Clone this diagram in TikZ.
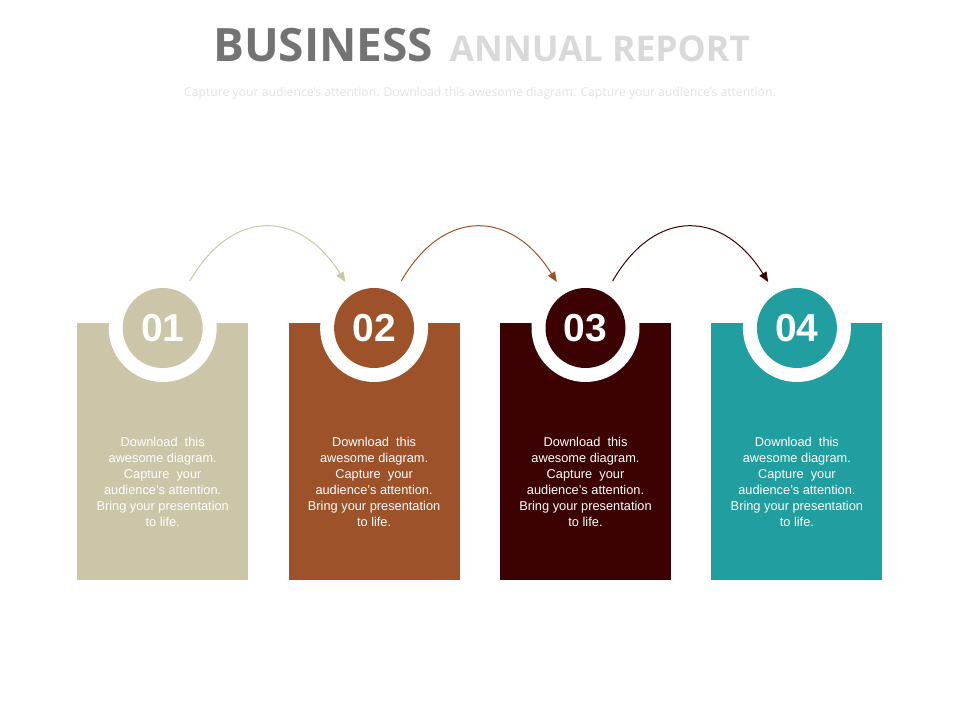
\documentclass[tikz,border=0pt]{standalone}
\usepackage{fontspec}
\setmainfont{Liberation Sans}
\newfontfamily\titlefont{Open Sans}
\usetikzlibrary{positioning,arrows.meta}

\definecolor{beige}{HTML}{CAC6A7}
\definecolor{rust}{HTML}{9E5229}
\definecolor{maroon}{HTML}{3C0203}
\definecolor{teal}{HTML}{209EA0}
\definecolor{titledark}{HTML}{737373}
\definecolor{titlelight}{HTML}{D9D9D9}
\definecolor{sublight}{HTML}{E2E2E2}

\tikzset{
  panel/.style={rectangle, minimum width=171pt, minimum height=257pt, inner sep=0pt},
  ring/.style={circle, fill=white, minimum size=108pt, inner sep=0pt},
  badge/.style={circle, minimum size=80pt, inner sep=0pt, text=white,
    font=\fontsize{39}{42}\selectfont\bfseries},
  blurb/.style={text=white, align=center, font=\fontsize{12.8}{16}\selectfont},
  hop/.style={line width=1pt, -{Triangle[length=10pt,width=8pt]}, out=60, in=122, looseness=1.4}
}

\begin{document}
\begin{tikzpicture}[x=1pt,y=1pt]
\useasboundingbox (0,0) rectangle (960,720);

% title
\node [anchor=base west, inner sep=0pt, text=titledark, font=\titlefont\fontsize{46}{50}\selectfont\bfseries] (t1) at (213,658) {BUSINESS};
\node [base right=16pt of t1, inner sep=0pt, text=titlelight, font=\titlefont\fontsize{35.5}{40}\selectfont\bfseries] (t2) {ANNUAL REPORT};
\node [text=sublight, font=\titlefont\fontsize{12.2}{14}\selectfont] (sub) at (480,627) {Capture your audience’s attention. Download this awesome diagram. Capture your audience’s attention.};

% panels
\node [panel, fill=beige, anchor=north west] (b1) at (77,397) {};
\node [panel, fill=rust, right=40pt of b1] (b2) {};
\node [panel, fill=maroon, right=40pt of b2] (b3) {};
\node [panel, fill=teal, right=40pt of b3] (b4) {};

% rings and numbers
\node [ring] (r1) at ([yshift=-5pt]b1.north) {};
\node [ring] (r2) at ([yshift=-5pt]b2.north) {};
\node [ring] (r3) at ([yshift=-5pt]b3.north) {};
\node [ring] (r4) at ([yshift=-5pt]b4.north) {};
\node [badge, fill=beige] (n1) at (r1) {01};
\node [badge, fill=rust] (n2) at (r2) {02};
\node [badge, fill=maroon] (n3) at (r3) {03};
\node [badge, fill=teal] (n4) at (r4) {04};

% texts
\node [blurb] (d1) at ([yshift=-30pt]b1.center) {Download\ \ this\\awesome diagram.\\Capture\ \ your\\audience’s attention.\\Bring your presentation\\to life.};
\node [blurb] (d2) at ([yshift=-30pt]b2.center) {Download\ \ this\\awesome diagram.\\Capture\ \ your\\audience’s attention.\\Bring your presentation\\to life.};
\node [blurb] (d3) at ([yshift=-30pt]b3.center) {Download\ \ this\\awesome diagram.\\Capture\ \ your\\audience’s attention.\\Bring your presentation\\to life.};
\node [blurb] (d4) at ([yshift=-30pt]b4.center) {Download\ \ this\\awesome diagram.\\Capture\ \ your\\audience’s attention.\\Bring your presentation\\to life.};

% arrows
\draw [hop, beige] (r1.60) to (r2.122);
\draw [hop, rust] (r2.60) to (r3.122);
\draw [hop, maroon] (r3.60) to (r4.122);
\end{tikzpicture}
\end{document}
